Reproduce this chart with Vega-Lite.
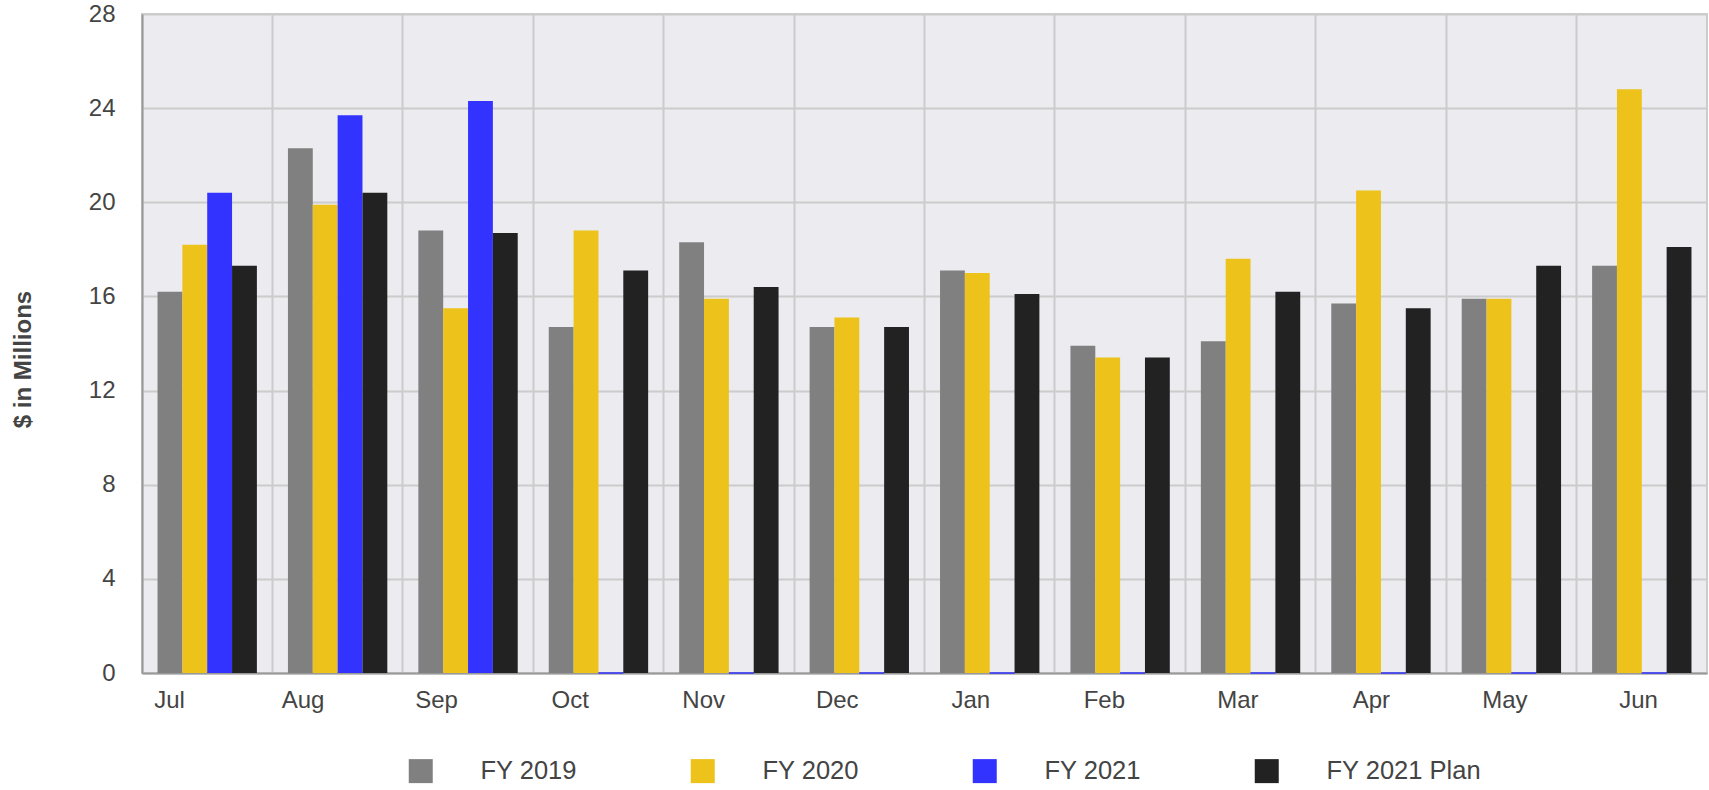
{
  "$schema": "https://vega.github.io/schema/vega-lite/v6.json",
  "width": 1565,
  "height": 659,
  "autosize": {"type": "none"},
  "padding": {"left": 142, "top": 14, "right": 2, "bottom": 117},
  "background": "#ffffff",
  "config": {
    "view": {"fill": "#ebebf0", "stroke": "#cccccc", "strokeWidth": 2},
    "font": "Liberation Sans",
    "axis": {
      "labelFont": "Liberation Sans",
      "labelFontSize": 24,
      "labelColor": "#444444",
      "gridColor": "#cccccc",
      "gridWidth": 2,
      "domainColor": "#999999",
      "domainWidth": 2,
      "ticks": false
    },
    "legend": {
      "labelFont": "Liberation Sans",
      "labelFontSize": 25.5,
      "labelColor": "#444444"
    }
  },
  "data": {
    "values": [
      {"month": "Jul", "series": "FY 2019", "value": 16.2},
      {"month": "Jul", "series": "FY 2020", "value": 18.2},
      {"month": "Jul", "series": "FY 2021", "value": 20.4},
      {"month": "Jul", "series": "FY 2021 Plan", "value": 17.3},
      {"month": "Aug", "series": "FY 2019", "value": 22.3},
      {"month": "Aug", "series": "FY 2020", "value": 19.9},
      {"month": "Aug", "series": "FY 2021", "value": 23.7},
      {"month": "Aug", "series": "FY 2021 Plan", "value": 20.4},
      {"month": "Sep", "series": "FY 2019", "value": 18.8},
      {"month": "Sep", "series": "FY 2020", "value": 15.5},
      {"month": "Sep", "series": "FY 2021", "value": 24.3},
      {"month": "Sep", "series": "FY 2021 Plan", "value": 18.7},
      {"month": "Oct", "series": "FY 2019", "value": 14.7},
      {"month": "Oct", "series": "FY 2020", "value": 18.8},
      {"month": "Oct", "series": "FY 2021", "value": 0},
      {"month": "Oct", "series": "FY 2021 Plan", "value": 17.1},
      {"month": "Nov", "series": "FY 2019", "value": 18.3},
      {"month": "Nov", "series": "FY 2020", "value": 15.9},
      {"month": "Nov", "series": "FY 2021", "value": 0},
      {"month": "Nov", "series": "FY 2021 Plan", "value": 16.4},
      {"month": "Dec", "series": "FY 2019", "value": 14.7},
      {"month": "Dec", "series": "FY 2020", "value": 15.1},
      {"month": "Dec", "series": "FY 2021", "value": 0},
      {"month": "Dec", "series": "FY 2021 Plan", "value": 14.7},
      {"month": "Jan", "series": "FY 2019", "value": 17.1},
      {"month": "Jan", "series": "FY 2020", "value": 17.0},
      {"month": "Jan", "series": "FY 2021", "value": 0},
      {"month": "Jan", "series": "FY 2021 Plan", "value": 16.1},
      {"month": "Feb", "series": "FY 2019", "value": 13.9},
      {"month": "Feb", "series": "FY 2020", "value": 13.4},
      {"month": "Feb", "series": "FY 2021", "value": 0},
      {"month": "Feb", "series": "FY 2021 Plan", "value": 13.4},
      {"month": "Mar", "series": "FY 2019", "value": 14.1},
      {"month": "Mar", "series": "FY 2020", "value": 17.6},
      {"month": "Mar", "series": "FY 2021", "value": 0},
      {"month": "Mar", "series": "FY 2021 Plan", "value": 16.2},
      {"month": "Apr", "series": "FY 2019", "value": 15.7},
      {"month": "Apr", "series": "FY 2020", "value": 20.5},
      {"month": "Apr", "series": "FY 2021", "value": 0},
      {"month": "Apr", "series": "FY 2021 Plan", "value": 15.5},
      {"month": "May", "series": "FY 2019", "value": 15.9},
      {"month": "May", "series": "FY 2020", "value": 15.9},
      {"month": "May", "series": "FY 2021", "value": 0},
      {"month": "May", "series": "FY 2021 Plan", "value": 17.3},
      {"month": "Jun", "series": "FY 2019", "value": 17.3},
      {"month": "Jun", "series": "FY 2020", "value": 24.8},
      {"month": "Jun", "series": "FY 2021", "value": 0},
      {"month": "Jun", "series": "FY 2021 Plan", "value": 18.1}
    ]
  },
  "layer": [
    {
      "mark": {"type": "bar"},
      "encoding": {
        "x": {
          "field": "month",
          "type": "nominal",
          "scale": {
            "type": "band",
            "domain": ["Jul", "Aug", "Sep", "Oct", "Nov", "Dec", "Jan", "Feb", "Mar", "Apr", "May", "Jun"],
            "paddingInner": 0,
            "paddingOuter": 0
          },
          "axis": {
            "title": null,
            "labels": false,
            "bandPosition": 0,
            "grid": true,
            "orient": "bottom"
          }
        },
        "xOffset": {
          "field": "series",
          "type": "nominal",
          "scale": {
            "domain": ["FY 2019", "FY 2020", "FY 2021", "FY 2021 Plan"],
            "paddingInner": 0,
            "paddingOuter": 0.625
          }
        },
        "y": {
          "field": "value",
          "type": "quantitative",
          "scale": {"domain": [0, 28], "nice": false},
          "axis": {
            "title": "$ in Millions",
            "values": [0, 4, 8, 12, 16, 20, 24, 28],
            "labelPadding": 27,
            "titleFont": "Liberation Sans",
            "titleFontSize": 24,
            "titleFontWeight": "bold",
            "titleColor": "#444444",
            "titleX": -119,
            "titleY": 345,
            "titleBaseline": "middle",
            "titleAlign": "center",
            "titleAngle": -90
          }
        },
        "color": {
          "field": "series",
          "type": "nominal",
          "scale": {
            "domain": ["FY 2019", "FY 2020", "FY 2021", "FY 2021 Plan"],
            "range": ["#808080", "#ecc21b", "#3333ff", "#222222"]
          },
          "legend": {
            "title": null,
            "orient": "none",
            "direction": "horizontal",
            "legendX": 266,
            "legendY": 744,
            "padding": 0,
            "symbolType": "square",
            "symbolSize": 576,
            "symbolStrokeWidth": 0,
            "symbolOpacity": 1,
            "labelOffset": 47,
            "columnPadding": 113
          }
        },
        "stroke": {
          "field": "series",
          "type": "nominal",
          "scale": {
            "domain": ["FY 2019", "FY 2020", "FY 2021", "FY 2021 Plan"],
            "range": ["#808080", "#ecc21b", "#3333ff", "#222222"]
          },
          "legend": null
        },
        "strokeWidth": {
          "condition": {"test": "datum.value == 0", "value": 1},
          "value": 0
        }
      }
    },
    {
      "mark": {"type": "point", "opacity": 0},
      "encoding": {
        "x": {
          "field": "month",
          "type": "nominal",
          "scale": {
            "type": "point",
            "domain": ["Jul", "Aug", "Sep", "Oct", "Nov", "Dec", "Jan", "Feb", "Mar", "Apr", "May", "Jun"],
            "range": [27, 1496],
            "padding": 0
          },
          "axis": {
            "title": null,
            "orient": "bottom",
            "grid": false,
            "domain": false,
            "labelPadding": 15,
            "labelAngle": 0
          }
        }
      }
    }
  ],
  "resolve": {"scale": {"x": "independent"}, "axis": {"x": "independent"}}
}
